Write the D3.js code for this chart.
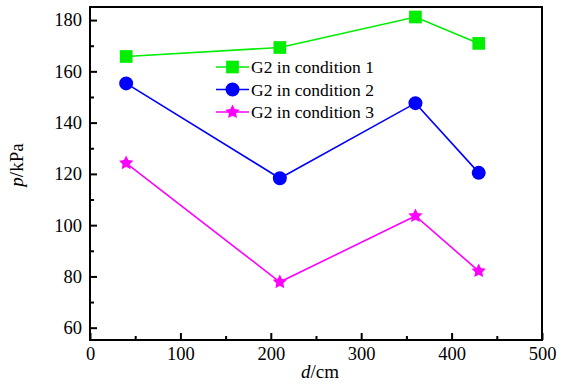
<!DOCTYPE html>
<html>
<meta charset="utf-8">
<head>
<style>
body { margin:0; padding:0; background:#fff; }
svg { display:block; }
</style>
</head>
<body>
<svg></svg>
<script src="https://cdnjs.cloudflare.com/ajax/libs/d3/7.8.5/d3.min.js"></script>
<script>

// data
var dist = [40, 210, 360, 430];
var cond1 = [165.8, 169.3, 181.2, 170.9];
var cond2 = [155.3, 118.3, 147.6, 120.4];
var cond3 = [124.2, 77.8, 103.6, 82.1];
var seriesNames = ["G2 in condition 1", "G2 in condition 2", "G2 in condition 3"];
var xTicks = [0, 100, 200, 300, 400, 500];
var yTicks = [60, 80, 100, 120, 140, 160, 180];

var serif = "Liberation Serif";
var width = 563, height = 389;
var m = {left: 90, right: 21, top: 7, bottom: 49};

var svg = d3.select("svg")
  .attr("width", width)
  .attr("height", height);

var x = d3.scaleLinear().domain([0, 500]).range([m.left, width - m.right]);
var y = d3.scaleLinear().domain([55.2, 185.1]).range([height - m.bottom, m.top]);

// fat five-point star like the original marker
var fatStar = {
  draw: function(ctx, size) {
    var r = Math.sqrt(size / 1.6), ri = r * 0.5;
    for (var i = 0; i < 10; i++) {
      var a = -Math.PI / 2 + i * Math.PI / 5, rr = i % 2 ? ri : r;
      if (i === 0) ctx.moveTo(rr * Math.cos(a), rr * Math.sin(a));
      else ctx.lineTo(rr * Math.cos(a), rr * Math.sin(a));
    }
    ctx.closePath();
  }
};

// frame
svg.append("rect")
  .attr("x", x(0)).attr("y", y(185.1))
  .attr("width", x(500) - x(0)).attr("height", y(55.2) - y(185.1))
  .attr("fill", "none").attr("stroke", "#000").attr("stroke-width", 2);

// x axis, ticks pointing inward
var xAxis = svg.append("g").attr("transform", "translate(0," + y(55.2) + ")");
xAxis.call(d3.axisBottom(x).tickValues(xTicks).tickSizeInner(-7).tickSizeOuter(0).tickPadding(7));
xAxis.append("g").call(d3.axisBottom(x).tickValues([50, 150, 250, 350, 450]).tickSize(-4).tickFormat(""));
xAxis.selectAll(".domain").remove();
xAxis.selectAll("line").attr("stroke-width", 2);
xAxis.selectAll("text").style("font-family", serif).style("font-size", "18.5px");

var yAxis = svg.append("g").attr("transform", "translate(" + x(0) + ",0)");
yAxis.call(d3.axisLeft(y).tickValues(yTicks).tickSizeInner(-7).tickSizeOuter(0).tickPadding(8));
yAxis.append("g").call(d3.axisLeft(y).tickValues([70, 90, 110, 130, 150, 170]).tickSize(-4).tickFormat(""));
yAxis.selectAll(".domain").remove();
yAxis.selectAll("line").attr("stroke-width", 2);
yAxis.selectAll("text").style("font-family", serif).style("font-size", "18.5px");

// axis titles
var xt = svg.append("text")
  .attr("x", 320).attr("y", 377.5)
  .attr("text-anchor", "middle")
  .style("font-family", serif).style("font-size", "19px");
xt.append("tspan").attr("font-style", "italic").text("d");
xt.append("tspan").text("/cm");

var yt = svg.append("text")
  .attr("transform", "translate(23,165) rotate(-90)")
  .attr("text-anchor", "middle")
  .style("font-family", serif).style("font-size", "19px");
yt.append("tspan").attr("font-style", "italic").text("p");
yt.append("tspan").text("/kPa");

var series = [
  {name: seriesNames[0], vals: cond1, color: "#00ee00", shape: d3.symbolSquare, size: 161},
  {name: seriesNames[1], vals: cond2, color: "#0000ff", shape: d3.symbolCircle, size: 154},
  {name: seriesNames[2], vals: cond3, color: "#ff00ff", shape: fatStar, size: 90}
];

var line = d3.line()
  .x(function(d) { return x(d[0]); })
  .y(function(d) { return y(d[1]); });

series.forEach(function(s) {
  var pts = dist.map(function(d, i) { return [d, s.vals[i]]; });
  svg.append("path")
    .datum(pts)
    .attr("d", line)
    .attr("fill", "none")
    .attr("stroke", s.color)
    .attr("stroke-width", 1.6);
  svg.selectAll(null)
    .data(pts)
    .enter().append("path")
    .attr("d", d3.symbol().type(s.shape).size(s.size))
    .attr("transform", function(d) { return "translate(" + x(d[0]) + "," + y(d[1]) + ")"; })
    .attr("fill", s.color);
});

// legend
var legRows = [67, 89.5, 112];
var leg = svg.append("g").attr("transform", "translate(216,0)");
series.forEach(function(s, i) {
  var g = leg.append("g").attr("transform", "translate(0," + legRows[i] + ")");
  g.append("line").attr("x1", 0).attr("x2", 33).attr("y1", 0).attr("y2", 0)
    .attr("stroke", s.color).attr("stroke-width", 1.6);
  g.append("path").attr("d", d3.symbol().type(s.shape).size(s.size))
    .attr("transform", "translate(16.5,0)").attr("fill", s.color);
  g.append("text").attr("x", 35).attr("y", 6)
    .style("font-family", serif).style("font-size", "17.5px")
    .text(s.name);
});

</script>
</body>
</html>
